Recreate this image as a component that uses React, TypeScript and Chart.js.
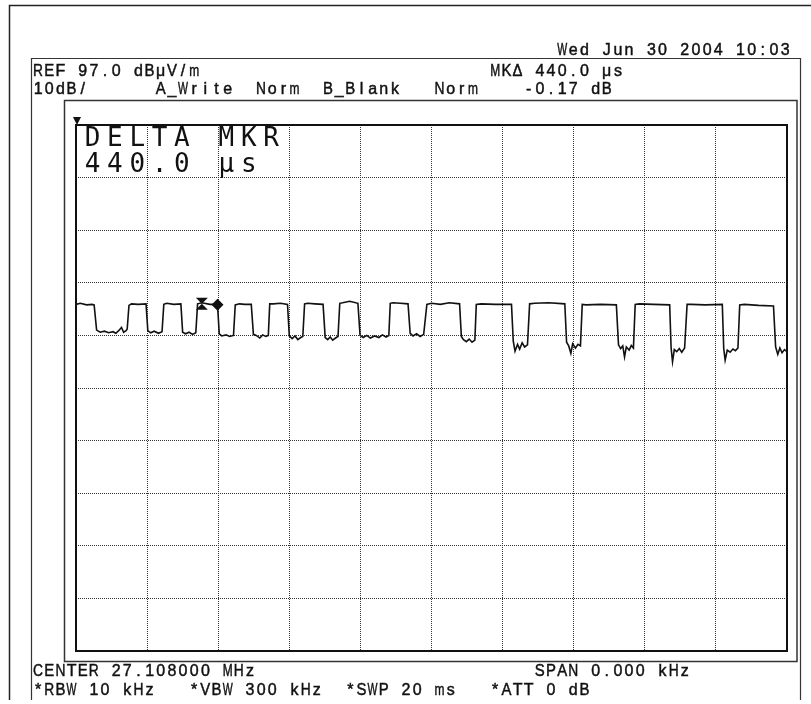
import { useEffect, useRef } from "react";
import { Chart, registerables } from "chart.js";

Chart.register(...registerables);

// ---- instrument settings ----
const REF_LEVEL_DB = 97;
const DB_PER_DIV = 10;
const SWEEP_MS = 20;
const X_DIVS = 10;
const Y_DIVS = 10;

// ---- trace readings (time in ms, level in dBuV/m) ----
const traceTimeMs = [
  0.0, 0.12, 0.3, 0.45, 0.51, 0.58, 0.68, 0.8, 0.92, 1.04, 1.12, 1.2, 1.28, 1.34, 1.41, 1.44,
  1.49, 1.56, 1.75, 1.97, 2.02, 2.1, 2.2, 2.32, 2.42,
  2.47, 2.55, 2.75, 2.95, 3.0, 3.08, 3.18, 3.28, 3.37,
  3.42, 3.54, 3.77, 3.98, 4.03, 4.1, 4.22, 4.32, 4.43,
  4.48, 4.6, 4.75, 4.93, 4.99, 5.07, 5.17, 5.25, 5.34, 5.41,
  5.45, 5.55, 5.75, 5.95, 6.0, 6.08, 6.16, 6.24, 6.32, 6.38,
  6.43, 6.52, 6.72, 6.95, 7.01, 7.08, 7.15, 7.22, 7.3, 7.37,
  7.42, 7.5, 7.7, 7.93, 7.99, 8.08, 8.18, 8.28, 8.4, 8.52, 8.62, 8.72, 8.8,
  8.84, 8.92, 9.12, 9.34, 9.4, 9.48, 9.58, 9.68, 9.78,
  9.87, 10.0, 10.25, 10.5, 10.79, 10.84, 10.9, 10.98, 11.06, 11.14, 11.22,
  11.26, 11.4, 11.8, 12.25, 12.3, 12.35, 12.42, 12.48, 12.55, 12.62, 12.7,
  12.76, 12.9, 13.3, 13.75, 13.8, 13.86, 13.92, 13.97, 14.05, 14.12, 14.19,
  14.24, 14.35, 14.75, 15.2, 15.26, 15.32, 15.38, 15.43, 15.48, 15.56, 15.62, 15.68,
  15.73, 15.85, 16.25, 16.7, 16.74, 16.78, 16.83, 16.9, 16.97, 17.04, 17.12,
  17.19, 17.3, 17.7, 18.18, 18.22, 18.26, 18.32, 18.4, 18.48, 18.55, 18.62,
  18.67, 18.8, 19.2, 19.62, 19.68, 19.74, 19.8, 19.86, 19.93, 20.0,
];
const traceLevelDb = [
  62.9, 63.1, 62.8, 62.9, 62.8, 58.0, 57.6, 57.8, 57.5, 57.7, 57.4, 57.9, 58.5, 57.6, 57.9, 58.2,
  62.7, 63.0, 62.9, 63.0, 57.9, 57.5, 57.8, 57.4, 57.7,
  62.9, 63.1, 62.9, 63.0, 57.6, 57.3, 57.6, 57.2, 57.5,
  63.0, 63.2, 62.9, 62.9, 57.3, 56.9, 57.1, 56.8, 57.0,
  62.8, 63.0, 62.9, 62.9, 57.2, 57.0, 56.5, 57.1, 56.8, 57.0,
  63.0, 63.0, 63.1, 62.9, 56.9, 56.4, 56.9, 56.2, 56.6, 56.8,
  63.0, 63.1, 63.0, 62.9, 56.6, 56.2, 56.7, 56.1, 56.5, 56.8,
  63.1, 63.2, 63.5, 63.1, 57.0, 56.6, 57.0, 56.5, 56.9, 56.6, 57.1, 56.7, 57.0,
  63.1, 63.2, 63.1, 63.0, 57.4, 56.9, 57.3, 56.8, 57.2,
  62.9, 63.1, 62.9, 63.2, 63.0, 56.8, 56.2, 55.8, 56.3, 55.7, 56.1,
  62.9, 63.0, 62.9, 62.9, 55.9, 54.0, 55.3, 54.4, 55.6, 54.8, 55.2,
  63.0, 63.1, 63.2, 63.0, 55.7, 55.0, 53.6, 55.4, 54.6, 55.3, 55.0,
  62.9, 62.8, 62.9, 62.8, 55.2, 54.5, 55.0, 52.9, 54.8, 54.2, 55.1, 54.6,
  62.9, 63.0, 62.9, 62.8, 54.6, 52.0, 54.3, 53.9, 54.5, 53.8, 54.6,
  62.9, 62.9, 62.8, 62.9, 54.5, 52.3, 54.2, 53.8, 54.4, 54.1, 54.6,
  62.8, 62.9, 62.7, 62.6, 54.8, 53.4, 54.6, 53.7, 54.3, 53.9,
];

// ---- markers (reference marker, delta marker) ----
const markerTimeMs = [3.54, 3.98];
const markerLevelDb = [63.0, 62.83];

// ---- annotation texts ----
const dateText = "Wed Jun 30 2004 10:03";
const refText = "REF 97.0 dBμV/m";
const mkText = "MKΔ 440.0 μs";
const scaleText = "10dB/";
const traceAText = "A_Write";
const normText = "Norm";
const traceBText = "B_Blank";
const deltaDbText = "-0.17 dB";
const centerText = "CENTER 27.108000 MHz";
const spanText = "SPAN 0.000 kHz";
const rbwText = "*RBW 10 kHz";
const vbwText = "*VBW 300 kHz";
const swpText = "*SWP 20 ms";
const attText = "*ATT 0 dB";
const deltaLine1 = "DELTA MKR";
const deltaLine2 = "440.0 μs";

const yTicks = Array.from({ length: Y_DIVS + 1 }, (_, i) => REF_LEVEL_DB - DB_PER_DIV * Y_DIVS + i * DB_PER_DIV);

const HEAD_FONT = '16px "Liberation Sans", Arial, sans-serif';
const BIG_FONT = '26px "DejaVu Sans Mono", "Liberation Mono", monospace';
const PITCH = 11.15;
const X0 = 32.5;

function cellText(
  ctx: CanvasRenderingContext2D,
  s: string,
  col: number,
  baseline: number,
  font = HEAD_FONT,
  pitch = PITCH,
  x0 = X0,
  thicken = 0.45
) {
  ctx.font = font;
  ctx.textAlign = "center";
  ctx.textBaseline = "alphabetic";
  ctx.fillStyle = "#111";
  ctx.strokeStyle = "#111";
  ctx.lineWidth = thicken;
  const maxW = pitch - 1.2;
  for (let i = 0; i < s.length; i++) {
    const ch = s[i];
    if (ch === " ") continue;
    const cx = x0 + (col + i + 0.5) * pitch;
    const w = ctx.measureText(ch).width;
    ctx.save();
    ctx.translate(cx, baseline);
    if (w > maxW) ctx.scale(maxW / w, 1);
    ctx.fillText(ch, 0, 0);
    if (thicken > 0) ctx.strokeText(ch, 0, 0);
    ctx.restore();
  }
}

const framePlugin = {
  id: "analyzerFrame",
  afterDraw(chart: any) {
    const ctx: CanvasRenderingContext2D = chart.ctx;
    const a = chart.chartArea;
    ctx.save();
    // outermost frame
    ctx.strokeStyle = "#222";
    ctx.lineWidth = 1.5;
    ctx.beginPath();
    ctx.moveTo(9.5, 700);
    ctx.lineTo(9.5, 5.5);
    ctx.lineTo(811, 5.5);
    ctx.stroke();
    // screen frame
    ctx.lineWidth = 1.2;
    ctx.strokeStyle = "#333";
    ctx.beginPath();
    ctx.moveTo(31.5, 700);
    ctx.lineTo(31.5, 58.5);
    ctx.lineTo(800.5, 58.5);
    ctx.lineTo(800.5, 700);
    ctx.stroke();
    // outer plot box
    ctx.lineWidth = 1.5;
    ctx.strokeStyle = "#333";
    ctx.strokeRect(a.left - 11.5, a.top - 24.5, a.right - a.left + 21.5, a.bottom - a.top + 35);
    // inner plot box
    ctx.lineWidth = 2;
    ctx.strokeStyle = "#111";
    ctx.strokeRect(a.left, a.top, a.right - a.left, a.bottom - a.top);
    // reference level marker triangle
    ctx.fillStyle = "#111";
    ctx.beginPath();
    ctx.moveTo(a.left - 3, a.top - 8);
    ctx.lineTo(a.left + 5, a.top - 8);
    ctx.lineTo(a.left + 1, a.top);
    ctx.closePath();
    ctx.fill();

    // header texts
    cellText(ctx, dateText, 47, 55);
    cellText(ctx, refText, 0, 76);
    cellText(ctx, mkText, 41, 76);
    cellText(ctx, scaleText, 0, 94);
    cellText(ctx, traceAText, 11, 94);
    cellText(ctx, normText, 20, 94);
    cellText(ctx, traceBText, 26, 94);
    cellText(ctx, normText, 36, 94);
    cellText(ctx, deltaDbText, 44, 94);
    // footer texts
    cellText(ctx, centerText, 0, 676);
    cellText(ctx, spanText, 45, 676);
    cellText(ctx, rbwText, 0, 695);
    cellText(ctx, vbwText, 14, 695);
    cellText(ctx, swpText, 28, 695);
    cellText(ctx, attText, 41, 695);
    // delta marker readout inside the graticule
    cellText(ctx, deltaLine1, 0, a.top + 21, BIG_FONT, 22.3, a.left + 5.5, 0);
    cellText(ctx, deltaLine2, 0, a.top + 47, BIG_FONT, 22.3, a.left + 5.5, 0);
    ctx.restore();
  },
  afterDatasetsDraw(chart: any) {
    const ctx: CanvasRenderingContext2D = chart.ctx;
    const xs = chart.scales.x;
    const ys = chart.scales.y;
    ctx.save();
    ctx.fillStyle = "#111";
    // reference marker: hourglass
    const px = xs.getPixelForValue(markerTimeMs[0]);
    const py = ys.getPixelForValue(markerLevelDb[0]);
    ctx.beginPath();
    ctx.moveTo(px - 6, py - 6);
    ctx.lineTo(px + 6, py - 6);
    ctx.lineTo(px, py);
    ctx.lineTo(px + 6, py + 6);
    ctx.lineTo(px - 6, py + 6);
    ctx.lineTo(px, py);
    ctx.closePath();
    ctx.fill();
    // delta marker: diamond
    const qx = xs.getPixelForValue(markerTimeMs[1]);
    const qy = ys.getPixelForValue(markerLevelDb[1]);
    ctx.beginPath();
    ctx.moveTo(qx, qy - 6);
    ctx.lineTo(qx + 6, qy);
    ctx.lineTo(qx, qy + 6);
    ctx.lineTo(qx - 6, qy);
    ctx.closePath();
    ctx.fill();
    ctx.restore();
  },
};

export default function App() {
  const ref = useRef<HTMLCanvasElement | null>(null);
  useEffect(() => {
    document.body.style.margin = "0";
    document.body.style.background = "#fff";
    const canvas = ref.current!;
    const points = traceTimeMs.map((t, i) => ({ x: t, y: traceLevelDb[i] }));
    const chart = new Chart(canvas, {
      type: "line",
      data: {
        datasets: [
          {
            data: points,
            borderColor: "#111",
            borderWidth: 1.6,
            pointRadius: 0,
            tension: 0,
          },
        ],
      },
      options: {
        animation: false,
        responsive: false,
        layout: { padding: { left: 76, top: 125, right: 24, bottom: 53 } },
        plugins: { legend: { display: false }, tooltip: { enabled: false } },
        scales: {
          x: {
            type: "linear",
            min: 0,
            max: SWEEP_MS,
            ticks: { display: false, stepSize: SWEEP_MS / X_DIVS },
            grid: { color: "#333", lineWidth: 1, drawTicks: false },
            border: { display: false, dash: [1, 1] },
          },
          y: {
            type: "linear",
            min: REF_LEVEL_DB - DB_PER_DIV * Y_DIVS,
            max: REF_LEVEL_DB,
            afterBuildTicks: (scale: any) => {
              scale.ticks = yTicks.map((v) => ({ value: v }));
            },
            ticks: { display: false },
            grid: { color: "#333", lineWidth: 1, drawTicks: false },
            border: { display: false, dash: [1, 1] },
          },
        },
      },
      plugins: [framePlugin],
    });
    return () => chart.destroy();
  }, []);
  return <canvas ref={ref} width={811} height={704} style={{ display: "block" }} />;
}
